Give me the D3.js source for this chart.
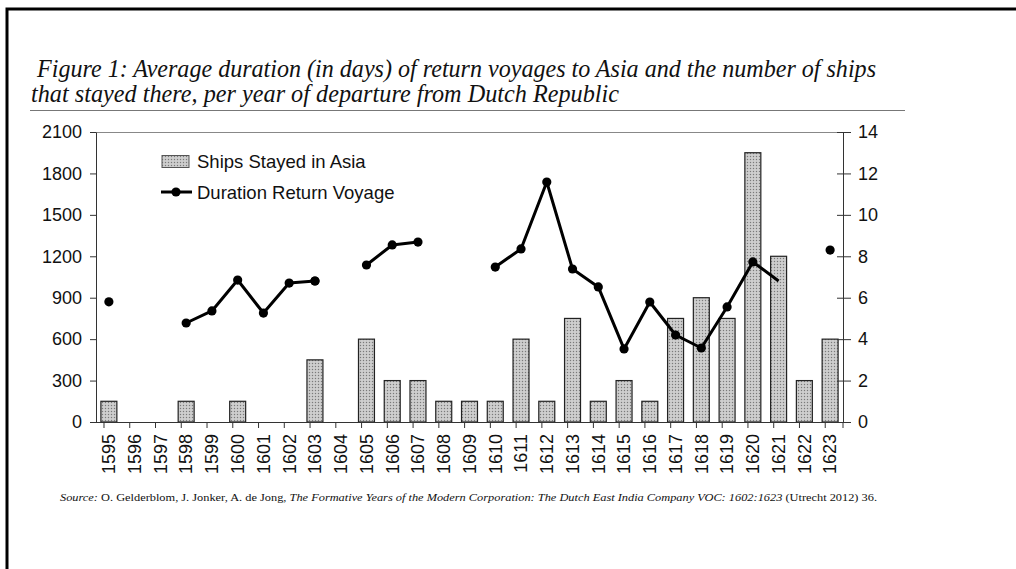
<!DOCTYPE html>
<html>
<head>
<meta charset="utf-8">
<script src="https://cdn.jsdelivr.net/npm/d3@7"></script>
<style>
    body { margin: 0; background: #fff; }
    svg { display: block; }
    .axis text { font-family: "Liberation Sans", Arial, sans-serif; font-size: 18px; fill: #111; }
    .axis path, .axis line { stroke: #333; }
    .legend text { font-family: "Liberation Sans", Arial, sans-serif; font-size: 18.5px; fill: #111; }
    .title { font-family: "Liberation Serif", "Times New Roman", serif; font-style: italic; font-size: 25px; fill: #111; }
    .source { font-family: "Liberation Serif", "Times New Roman", serif; font-size: 11px; fill: #111; }
</style>
</head>
<body>
<div class="chart"></div>
<script>
var years = ['1595', '1596', '1597', '1598', '1599', '1600', '1601', '1602', '1603', '1604',
             '1605', '1606', '1607', '1608', '1609', '1610', '1611', '1612', '1613', '1614',
             '1615', '1616', '1617', '1618', '1619', '1620', '1621', '1622', '1623'];

// ships that stayed in Asia (right axis)
var ships = [1, 0, 0, 1, 0, 1, 0, 0, 3, 0,
             4, 2, 2, 1, 1, 1, 4, 1, 5, 1,
             2, 1, 5, 6, 5, 13, 8, 2, 4];

// average duration of return voyage in days (left axis), null = no data
var duration = [870, null, null, 717, 804, 1028, 789, 1006, 1021, null,
                1137, 1282, 1303, null, null, 1122, 1253, 1738, 1108, 978,
                529, 869, 630, 536, 833, 1159, 1021, null, 1245];

var leftTicks = [0, 300, 600, 900, 1200, 1500, 1800, 2100];
var rightTicks = [0, 2, 4, 6, 8, 10, 12, 14];

var titleLines = [
    'Figure 1: Average duration (in days) of return voyages to Asia and the number of ships',
    'that stayed there, per year of departure from Dutch Republic'
];

var W = 1016, H = 569;
var margin = {top: 132, right: 173, bottom: 147, left: 96},
    width = W - margin.left - margin.right,
    height = H - margin.top - margin.bottom;

var root = d3.select('.chart').append('svg')
    .attr('width', W)
    .attr('height', H);

// dotted fill for bars
var pat = root.append('defs').append('pattern')
    .attr('id', 'dots')
    .attr('width', 3)
    .attr('height', 3)
    .attr('patternUnits', 'userSpaceOnUse');
pat.append('rect').attr('width', 3).attr('height', 3).attr('fill', '#c4c4c4');
pat.append('rect').attr('x', 0).attr('y', 0).attr('width', 1).attr('height', 1).attr('fill', '#7a7a7a');
pat.append('rect').attr('x', 1.5).attr('y', 1.5).attr('width', 1).attr('height', 1).attr('fill', '#ececec');

// page border
root.append('path')
    .attr('d', 'M7,569 V9 H1016')
    .attr('fill', 'none')
    .attr('stroke', '#000')
    .attr('stroke-width', 3);

// title
root.selectAll('text.title')
    .data(titleLines)
    .enter().append('text')
    .attr('class', 'title')
    .attr('x', function(d, i) { return i === 0 ? 37 : 31; })
    .attr('y', function(d, i) { return 77 + i * 25; })
    .attr('textLength', function(d, i) { return i === 0 ? 839 : 588; })
    .attr('lengthAdjust', 'spacingAndGlyphs')
    .text(function(d) { return d; });

root.append('line')
    .attr('x1', 30).attr('x2', 905)
    .attr('y1', 110.5).attr('y2', 110.5)
    .attr('stroke', '#777')
    .attr('stroke-width', 1);

var svg = root.append('g')
    .attr('transform', 'translate(' + margin.left + ',' + margin.top + ')');

var x = d3.scaleBand()
    .domain(years)
    .range([0, width])
    .paddingInner(0.38)
    .paddingOuter(0.19);

var yLeft = d3.scaleLinear().domain([0, 2100]).range([height, 0]);
var yRight = d3.scaleLinear().domain([0, 14]).range([height, 0]);

// top frame line
svg.append('line')
    .attr('x1', 0).attr('x2', width)
    .attr('y1', 0.5).attr('y2', 0.5)
    .attr('stroke', '#888');

// bars
svg.append('g')
    .selectAll('rect')
    .data(years)
    .enter().append('rect')
    .attr('x', function(d) { return x(d); })
    .attr('width', x.bandwidth())
    .attr('y', function(d, i) { return yRight(ships[i]); })
    .attr('height', function(d, i) { return height - yRight(ships[i]); })
    .attr('fill', 'url(#dots)')
    .attr('stroke', '#222')
    .attr('stroke-width', 1.2)
    .style('display', function(d, i) { return ships[i] > 0 ? null : 'none'; });

// axes
var xAxis = svg.append('g')
    .attr('class', 'x axis')
    .attr('transform', 'translate(0,' + height + ')')
    .call(d3.axisBottom(x).tickSize(0).tickPadding(13));
xAxis.select('.domain').attr('d', 'M0,0.5H' + width);
xAxis.selectAll('text')
    .attr('transform', 'rotate(-90)')
    .attr('x', -12)
    .attr('y', 0)
    .attr('dy', '0.35em')
    .style('text-anchor', 'end');
xAxis.selectAll('.tick').append('line')
    .attr('class', 'bound')
    .attr('x1', -x.step() / 2).attr('x2', -x.step() / 2)
    .attr('y1', 0).attr('y2', 6)
    .attr('transform', 'translate(' + (x.bandwidth() / 2) + ',0)');
xAxis.append('line')
    .attr('x1', width).attr('x2', width)
    .attr('y1', 0).attr('y2', 6)
    .attr('stroke', '#333');
xAxis.selectAll('.bound').attr('stroke', '#333');

svg.append('g')
    .attr('class', 'y axis')
    .call(d3.axisLeft(yLeft).tickValues(leftTicks).tickFormat(d3.format('d'))
        .tickSize(6).tickPadding(8).tickSizeOuter(0));

var rAxis = svg.append('g')
    .attr('class', 'y2 axis')
    .attr('transform', 'translate(' + width + ',0)')
    .call(d3.axisRight(yRight).tickValues(rightTicks).tickFormat(d3.format('d'))
        .tickSize(8).tickPadding(7).tickSizeOuter(0));
rAxis.selectAll('.tick line').attr('x1', -6);

// duration line
var cx = function(i) { return x(years[i]) + x.bandwidth() / 2; };
var line = d3.line()
    .defined(function(d) { return d !== null; })
    .x(function(d, i) { return cx(i); })
    .y(function(d) { return yLeft(d); });

svg.append('path')
    .datum(duration)
    .attr('fill', 'none')
    .attr('stroke', '#000')
    .attr('stroke-width', 3)
    .attr('stroke-linejoin', 'round')
    .attr('d', line);

svg.append('g')
    .selectAll('circle')
    .data(duration)
    .enter().filter(function(d) { return d !== null; })
    .append('circle')
    .attr('cx', function(d) { return cx(duration.indexOf(d)); })
    .attr('cy', function(d) { return yLeft(d); })
    .attr('r', 4.6)
    .attr('fill', '#000');

// legend
var legend = root.append('g').attr('class', 'legend');
legend.append('rect')
    .attr('x', 162).attr('y', 155.5)
    .attr('width', 27).attr('height', 12)
    .attr('fill', 'url(#dots)')
    .attr('stroke', '#555');
legend.append('text').attr('x', 197).attr('y', 168).text('Ships Stayed in Asia');
legend.append('line')
    .attr('x1', 161).attr('x2', 192)
    .attr('y1', 192).attr('y2', 192)
    .attr('stroke', '#000').attr('stroke-width', 3);
legend.append('circle').attr('cx', 176).attr('cy', 192).attr('r', 4.6).attr('fill', '#000');
legend.append('text').attr('x', 197).attr('y', 199).text('Duration Return Voyage');

// source note
var src = root.append('text')
    .attr('class', 'source')
    .attr('x', 60)
    .attr('y', 501)
    .attr('textLength', 817)
    .attr('lengthAdjust', 'spacingAndGlyphs');
src.append('tspan').style('font-style', 'italic').text('Source: ');
src.append('tspan').text('O. Gelderblom, J. Jonker, A. de Jong, ');
src.append('tspan').style('font-style', 'italic').text('The Formative Years of the Modern Corporation: The Dutch East India Company VOC: 1602:1623');
src.append('tspan').text(' (Utrecht 2012) 36.');
</script>
</body>
</html>
